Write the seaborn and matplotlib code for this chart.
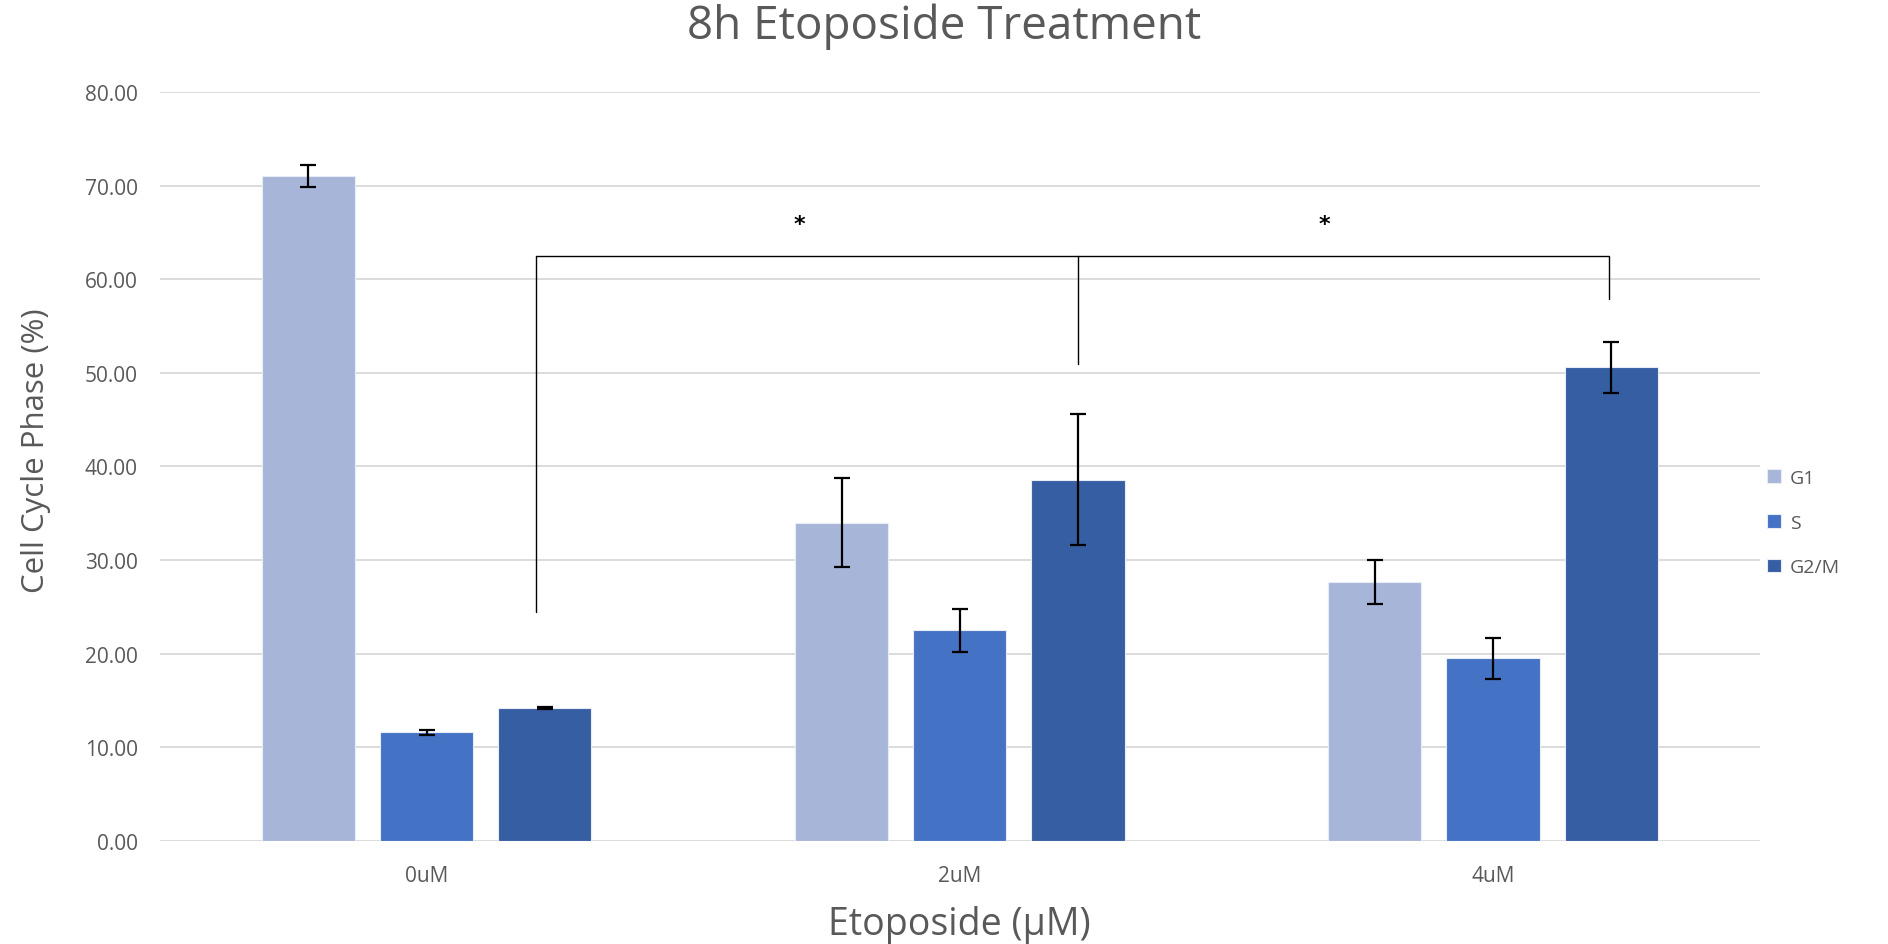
import pandas as pd
import numpy as np
import matplotlib
matplotlib.use("Agg")
import matplotlib.pyplot as plt
import seaborn as sns

# Values
doses = ["0uM", "2uM", "4uM"]
phases = ["G1", "S", "G2/M"]
g1_mean = [71.0, 34.0, 27.7]
s_mean = [11.6, 22.5, 19.5]
g2m_mean = [14.2, 38.6, 50.6]
g1_err = [1.15, 4.75, 2.35]
s_err = [0.3, 2.3, 2.2]
g2m_err = [0.1, 7.0, 2.75]
colors = ["#A7B5D9", "#4472C4", "#365EA2"]

sig_y = 62.5            # height of the significance bracket
sig_drops = [24.5, 50.9, 57.9]   # where the bracket legs end
star_y = 65.9

df = pd.DataFrame({
    "Dose": doses * 3,
    "Phase": [p for p in phases for _ in doses],
    "Value": g1_mean + s_mean + g2m_mean,
})
errs = [g1_err, s_err, g2m_err]

sns.set_style("white")
plt.rcParams["font.family"] = ["Open Sans", "DejaVu Sans"]
grey = "#595959"

fig = plt.figure(figsize=(18.88, 9.45), dpi=100)
ax = fig.add_axes([0.0847, 0.109, 0.8473, 0.7926])

sns.barplot(data=df, x="Dose", y="Value", hue="Phase", order=doses,
            hue_order=phases, palette=colors, saturation=1, width=0.665,
            gap=0.21, edgecolor="#E8ECF6", linewidth=0.8, ax=ax, zorder=2)

# error bars on top of each bar
centers = []
for cont, e in zip(ax.containers, errs):
    xs = [b.get_x() + b.get_width() / 2 for b in cont]
    ys = [b.get_height() for b in cont]
    centers.append(xs)
    ax.errorbar(xs, ys, yerr=e, fmt="none", ecolor="black", elinewidth=1.6,
                capsize=6, capthick=1.6, zorder=3)

# significance bracket over the G2/M bars
bx = centers[2]
bx = [bx[0] - 0.017, bx[1], bx[2] - 0.004]
ax.plot([bx[0], bx[0], bx[2], bx[2]], [sig_drops[0], sig_y, sig_y, sig_drops[2]],
        color="black", lw=1.0, zorder=4)
ax.plot([bx[1], bx[1]], [sig_y, sig_drops[1]], color="black", lw=1.0, zorder=4)
ax.text((bx[0] + bx[1]) / 2 - 0.013, star_y, "*", ha="center", va="center",
        fontsize=16, fontweight="bold", color="black", family="DejaVu Sans")
ax.text((bx[1] + bx[2]) / 2 - 0.035, star_y, "*", ha="center", va="center",
        fontsize=16, fontweight="bold", color="black", family="DejaVu Sans")

ax.set_ylim(0, 80)
ax.set_xlim(-0.5, 2.5)
ax.set_yticks(np.arange(0, 81, 10))
ax.set_yticklabels([f"{v:.2f}" for v in np.arange(0, 81, 10)])
ax.yaxis.grid(True, color="#D9D9D9", lw=1.3, zorder=0)
ax.set_axisbelow(True)
for s in ax.spines.values():
    s.set_visible(False)
ax.tick_params(axis="both", length=0, labelsize=15, colors=grey, pad=16)
ax.tick_params(axis="x", pad=17)

ax.set_xlabel("Etoposide (µM)", fontsize=27, color=grey)
ax.xaxis.set_label_coords(0.5, -0.086)
ax.set_ylabel("Cell Cycle Phase (%)", fontsize=22.5, color=grey)
ax.yaxis.set_label_coords(-0.068, 0.523)
fig.text(0.5, 0.972, "8h Etoposide Treatment", fontsize=33, color=grey,
         ha="center", va="center")

ax.legend(loc="center left", bbox_to_anchor=(1.0, 0.425), frameon=False,
          fontsize=14, handlelength=0.72, handleheight=0.72, handletextpad=0.45,
          labelspacing=1.37, borderaxespad=0.0, labelcolor=grey, title=None)

fig.savefig("out.png", dpi=100)
